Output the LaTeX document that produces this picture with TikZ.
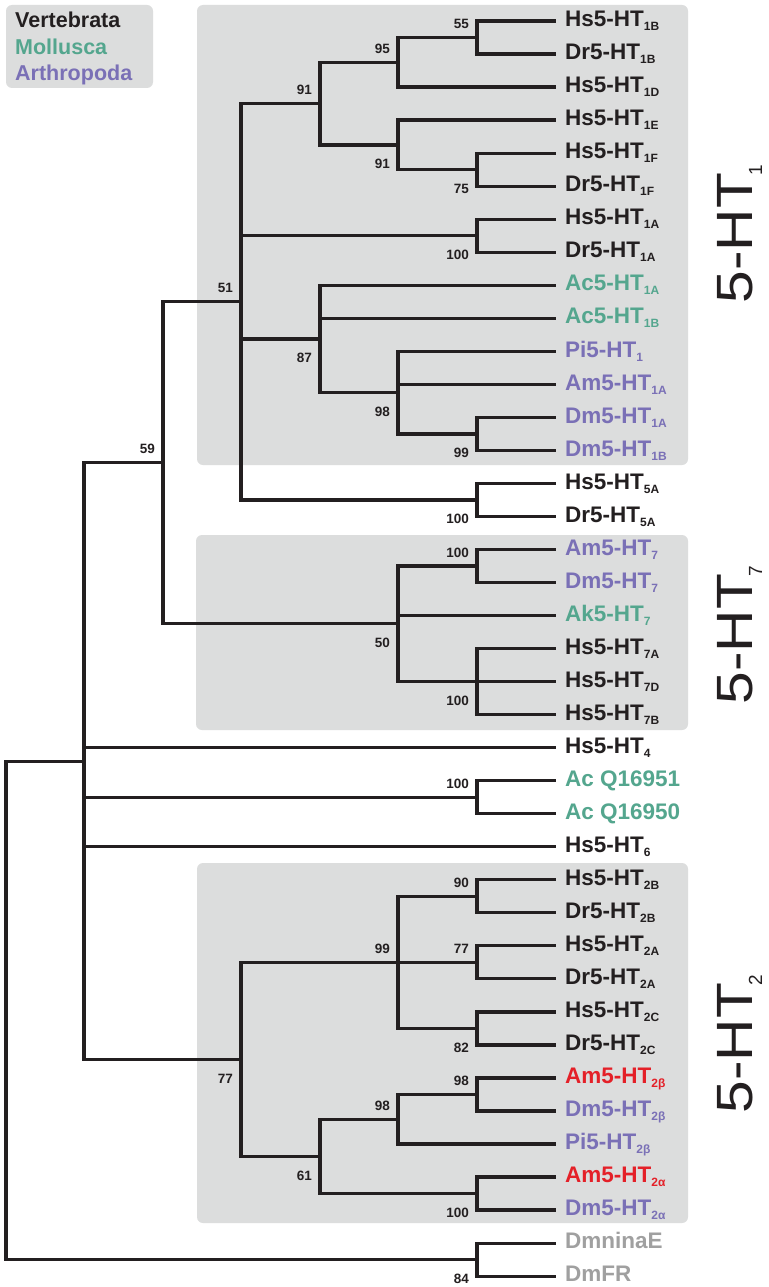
\documentclass[tikz,border=0pt]{standalone}
\usepackage{fontspec}
\setmainfont{Liberation Sans}
\definecolor{ink}{RGB}{35,31,32}
\definecolor{teal5}{RGB}{84,166,142}
\definecolor{purp5}{RGB}{122,112,182}
\definecolor{red5}{RGB}{228,32,40}
\definecolor{gray5}{RGB}{160,160,160}
\definecolor{boxgray}{RGB}{220,221,221}
\newcommand{\sbs}[1]{\raisebox{-4pt}{\fontsize{12}{12}\selectfont #1}}
\newcommand{\bigsub}[1]{\kern-2pt\raisebox{-10pt}{\fontsize{19}{19}\selectfont #1}}
\newcommand{\leafnode}[4]{%
  \coordinate (#1) at (556,{21+33.03*#2});
  \node[leaflab,text=#3] (#1t) at (565,{26.7+33.03*#2}) {#4};}
\newcommand{\bsabove}[3]{\node[bs] (#1) at ([shift={(-8,-13.5)}]#2) {#3};}
\newcommand{\bsbelow}[3]{\node[bs] (#1) at ([shift={(-8,19)}]#2) {#3};}
\tikzset{
  br/.style={line width=3.2pt, draw=ink, line join=miter},
  leaflab/.style={anchor=base west, inner sep=0pt, font=\fontsize{22.5}{24}\selectfont\bfseries},
  bs/.style={anchor=east, inner sep=0pt, font=\fontsize{13.5}{14}\selectfont\bfseries, text=ink},
  clade/.style={fill=boxgray, draw=none, rounded corners=6pt},
  legtext/.style={anchor=base west, inner sep=0pt, font=\fontsize{21.5}{22}\selectfont\bfseries},
  biglab/.style={rotate=90, anchor=base, inner sep=0pt, font=\fontsize{51}{51}\selectfont, text=ink},
}
\begin{document}
\begin{tikzpicture}[x=1pt,y=-1pt]
\fill[white] (0,0) rectangle (768,1287);
\useasboundingbox (0,0) rectangle (768,1287);
% clade boxes and legend box
\path[clade] (197,5) rectangle (688,465);
\path[clade] (196,535) rectangle (688,730);
\path[clade] (197,863) rectangle (688,1223);
\path[clade] (6,5) rectangle (153,88);
\node[legtext,text=ink] (leg1) at (15,28) {Vertebrata};
\node[legtext,text=teal5] (leg2) at (15,54.5) {Mollusca};
\node[legtext,text=purp5] (leg3) at (15,80.5) {Arthropoda};
% leaves
\leafnode{l0}{0}{ink}{Hs5-HT\sbs{1B}}
\leafnode{l1}{1}{ink}{Dr5-HT\sbs{1B}}
\leafnode{l2}{2}{ink}{Hs5-HT\sbs{1D}}
\leafnode{l3}{3}{ink}{Hs5-HT\sbs{1E}}
\leafnode{l4}{4}{ink}{Hs5-HT\sbs{1F}}
\leafnode{l5}{5}{ink}{Dr5-HT\sbs{1F}}
\leafnode{l6}{6}{ink}{Hs5-HT\sbs{1A}}
\leafnode{l7}{7}{ink}{Dr5-HT\sbs{1A}}
\leafnode{l8}{8}{teal5}{Ac5-HT\sbs{1A}}
\leafnode{l9}{9}{teal5}{Ac5-HT\sbs{1B}}
\leafnode{l10}{10}{purp5}{Pi5-HT\sbs{1}}
\leafnode{l11}{11}{purp5}{Am5-HT\sbs{1A}}
\leafnode{l12}{12}{purp5}{Dm5-HT\sbs{1A}}
\leafnode{l13}{13}{purp5}{Dm5-HT\sbs{1B}}
\leafnode{l14}{14}{ink}{Hs5-HT\sbs{5A}}
\leafnode{l15}{15}{ink}{Dr5-HT\sbs{5A}}
\leafnode{l16}{16}{purp5}{Am5-HT\sbs{7}}
\leafnode{l17}{17}{purp5}{Dm5-HT\sbs{7}}
\leafnode{l18}{18}{teal5}{Ak5-HT\sbs{7}}
\leafnode{l19}{19}{ink}{Hs5-HT\sbs{7A}}
\leafnode{l20}{20}{ink}{Hs5-HT\sbs{7D}}
\leafnode{l21}{21}{ink}{Hs5-HT\sbs{7B}}
\leafnode{l22}{22}{ink}{Hs5-HT\sbs{4}}
\leafnode{l23}{23}{teal5}{Ac Q16951}
\leafnode{l24}{24}{teal5}{Ac Q16950}
\leafnode{l25}{25}{ink}{Hs5-HT\sbs{6}}
\leafnode{l26}{26}{ink}{Hs5-HT\sbs{2B}}
\leafnode{l27}{27}{ink}{Dr5-HT\sbs{2B}}
\leafnode{l28}{28}{ink}{Hs5-HT\sbs{2A}}
\leafnode{l29}{29}{ink}{Dr5-HT\sbs{2A}}
\leafnode{l30}{30}{ink}{Hs5-HT\sbs{2C}}
\leafnode{l31}{31}{ink}{Dr5-HT\sbs{2C}}
\leafnode{l32}{32}{red5}{Am5-HT\sbs{2β}}
\leafnode{l33}{33}{purp5}{Dm5-HT\sbs{2β}}
\leafnode{l34}{34}{purp5}{Pi5-HT\sbs{2β}}
\leafnode{l35}{35}{red5}{Am5-HT\sbs{2α}}
\leafnode{l36}{36}{purp5}{Dm5-HT\sbs{2α}}
\leafnode{l37}{37}{gray5}{DmninaE}
\leafnode{l38}{38}{gray5}{DmFR}
% internal nodes
\coordinate (n55) at (477,37.5);
\coordinate (n95) at (398,62.3);
\coordinate (n75) at (477,169.6);
\coordinate (n91b) at (398,144.9);
\coordinate (n91) at (320,103.6);
\coordinate (n100a) at (477,235.7);
\coordinate (n99a) at (477,433.9);
\coordinate (n98a) at (398,392.6);
\coordinate (n87) at (320,338.9);
\coordinate (n100b) at (477,499.9);
\coordinate (n51) at (241,301.75);
\coordinate (n100c) at (477,566.0);
\coordinate (n100d) at (477,681.6);
\coordinate (n50) at (398,623.8);
\coordinate (n59) at (163,462.8);
\coordinate (n100e) at (477,797.2);
\coordinate (n90) at (477,896.3);
\coordinate (n77a) at (477,962.4);
\coordinate (n82) at (477,1028.4);
\coordinate (n99b) at (398,962.4);
\coordinate (n98b) at (477,1094.5);
\coordinate (n98c) at (398,1119.3);
\coordinate (n100f) at (477,1193.6);
\coordinate (n61) at (320,1156.4);
\coordinate (n77) at (241,1059.4);
\coordinate (nX) at (84,761.1);
\coordinate (n84) at (477,1259.6);
\coordinate (root) at (6,1010.4);
% branches
\draw[br] (n55) |- (l0); \draw[br] (n55) |- (l1);
\draw[br] (n95) |- (n55); \draw[br] (n95) |- (l2);
\draw[br] (n75) |- (l4); \draw[br] (n75) |- (l5);
\draw[br] (n91b) |- (l3); \draw[br] (n91b) |- (n75);
\draw[br] (n91) |- (n95); \draw[br] (n91) |- (n91b);
\draw[br] (n100a) |- (l6); \draw[br] (n100a) |- (l7);
\draw[br] (n99a) |- (l12); \draw[br] (n99a) |- (l13);
\draw[br] (n98a) |- (l10); \draw[br] (n98a) |- (l11); \draw[br] (n98a) |- (n99a);
\draw[br] (n87) |- (l8); \draw[br] (n87) |- (l9); \draw[br] (n87) |- (n98a);
\draw[br] (n100b) |- (l14); \draw[br] (n100b) |- (l15);
\draw[br] (n51) |- (n91); \draw[br] (n51) |- (n100a); \draw[br] (n51) |- (n87); \draw[br] (n51) |- (n100b);
\draw[br] (n100c) |- (l16); \draw[br] (n100c) |- (l17);
\draw[br] (n100d) |- (l19); \draw[br] (n100d) |- (l20); \draw[br] (n100d) |- (l21);
\draw[br] (n50) |- (n100c); \draw[br] (n50) |- (l18); \draw[br] (n50) |- (n100d);
\draw[br] (n59) |- (n51); \draw[br] (n59) |- (n50);
\draw[br] (n100e) |- (l23); \draw[br] (n100e) |- (l24);
\draw[br] (n90) |- (l26); \draw[br] (n90) |- (l27);
\draw[br] (n77a) |- (l28); \draw[br] (n77a) |- (l29);
\draw[br] (n82) |- (l30); \draw[br] (n82) |- (l31);
\draw[br] (n99b) |- (n90); \draw[br] (n99b) |- (n77a); \draw[br] (n99b) |- (n82);
\draw[br] (n98b) |- (l32); \draw[br] (n98b) |- (l33);
\draw[br] (n98c) |- (n98b); \draw[br] (n98c) |- (l34);
\draw[br] (n100f) |- (l35); \draw[br] (n100f) |- (l36);
\draw[br] (n61) |- (n98c); \draw[br] (n61) |- (n100f);
\draw[br] (n77) |- (n99b); \draw[br] (n77) |- (n61);
\draw[br] (nX) |- (n59); \draw[br] (nX) |- (l22); \draw[br] (nX) |- (n100e); \draw[br] (nX) |- (l25); \draw[br] (nX) |- (n77);
\draw[br] (n84) |- (l37); \draw[br] (n84) |- (l38);
\draw[br] (root) |- (nX); \draw[br] (root) |- (n84);
% bootstrap values
\bsabove{b55}{n55}{55}
\bsabove{b95}{n95}{95}
\bsabove{b91}{n91}{91}
\bsbelow{b91b}{n91b}{91}
\bsbelow{b75}{n75}{75}
\bsbelow{b100a}{n100a}{100}
\bsabove{b51}{n51}{51}
\bsbelow{b87}{n87}{87}
\bsbelow{b98a}{n98a}{98}
\bsbelow{b99a}{n99a}{99}
\bsbelow{b100b}{n100b}{100}
\bsabove{b59}{n59}{59}
\bsabove{b100c}{n100c}{100}
\bsbelow{b50}{n50}{50}
\bsbelow{b100d}{n100d}{100}
\bsabove{b100e}{n100e}{100}
\bsabove{b90}{n90}{90}
\bsabove{b77a}{n77a}{77}
\bsabove{b99b}{n99b}{99}
\bsbelow{b82}{n82}{82}
\bsabove{b98b}{n98b}{98}
\bsabove{b98c}{n98c}{98}
\bsbelow{b61}{n61}{61}
\bsbelow{b100f}{n100f}{100}
\bsbelow{b77}{n77}{77}
\bsbelow{b84}{n84}{84}
% clade labels
\node[biglab] (c1) at (752,234) {\scalebox{1.15}[1]{5-HT}\bigsub{1}};
\node[biglab] (c7) at (752,635) {\scalebox{1.15}[1]{5-HT}\bigsub{7}};
\node[biglab] (c2) at (752,1044) {\scalebox{1.15}[1]{5-HT}\bigsub{2}};
\end{tikzpicture}
\end{document}
